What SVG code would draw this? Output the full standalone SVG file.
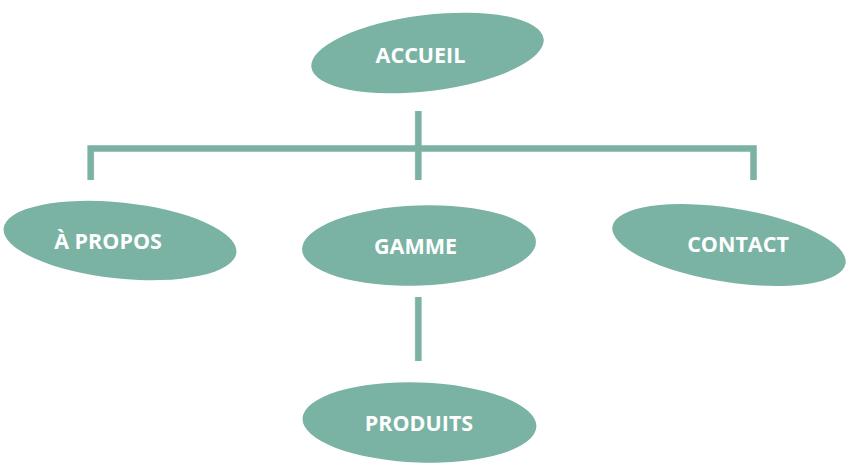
<svg xmlns="http://www.w3.org/2000/svg" width="850" height="466" viewBox="0 0 850 466">
<style>
.n{fill:#7ab3a4;}
.t{fill:#ffffff;font-family:"Open Sans",sans-serif;font-weight:bold;font-size:21.5px;text-anchor:middle;dominant-baseline:central;}
.c{stroke:#7ab3a4;stroke-width:6;fill:none;stroke-linecap:butt;stroke-linejoin:miter;}
.e{stroke:#c3d0cc;stroke-width:7;fill:none;}
</style>
<rect width="850" height="466" fill="#ffffff"/>
<g id="connectors">
<path class="e" d="M418.3,111 V180 M90.7,180 V148.5 H753.5 V180 M418.3,297 V361"/>
<path class="c" d="M418.3,111 V180 M90.7,180 V148.5 H753.5 V180 M418.3,297 V361"/>
</g>
<g id="accueil">
<ellipse class="n" cx="427.5" cy="53" rx="117" ry="38" transform="rotate(-7 427.5 53)"/>
<text class="t" x="420.5" y="54">ACCUEIL</text>
</g>
<g id="apropos">
<ellipse class="n" cx="120" cy="240.5" rx="117" ry="38" transform="rotate(6 120 240.5)"/>
<text class="t" x="108" y="240">À PROPOS</text>
</g>
<g id="gamme">
<ellipse class="n" cx="419" cy="245.5" rx="117" ry="40" transform="rotate(-2 419 245.5)"/>
<text class="t" x="415.5" y="245">GAMME</text>
</g>
<g id="contact">
<ellipse class="n" cx="729" cy="245" rx="118" ry="37" transform="rotate(9 729 245)"/>
<text class="t" x="738" y="243">CONTACT</text>
</g>
<g id="produits">
<ellipse class="n" cx="419.5" cy="422.5" rx="117" ry="40" transform="rotate(2 419.5 422.5)"/>
<text class="t" x="419" y="422">PRODUITS</text>
</g>
</svg>
